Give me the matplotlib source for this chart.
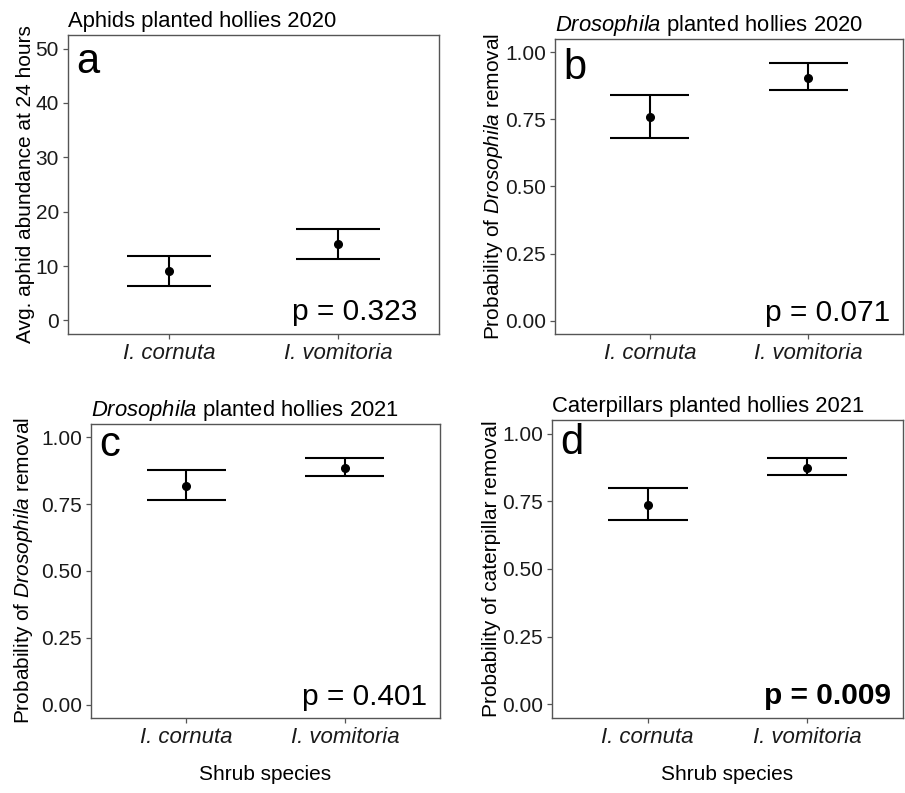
import matplotlib
matplotlib.use("Agg")
import matplotlib.pyplot as plt
import numpy as np

plt.rcParams['font.family'] = ['Liberation Sans', 'DejaVu Sans']
plt.rcParams['mathtext.fontset'] = 'custom'
plt.rcParams['mathtext.rm'] = 'Liberation Sans'
plt.rcParams['mathtext.it'] = 'Liberation Sans:italic'
plt.rcParams['mathtext.bf'] = 'Liberation Sans:bold'

# ---- data ----
species = ["I. cornuta", "I. vomitoria"]

aphid_mean = [9.1, 14.0]
aphid_lo = [6.3, 11.3]
aphid_hi = [11.9, 16.8]

dros20_mean = [0.758, 0.904]
dros20_lo = [0.681, 0.859]
dros20_hi = [0.840, 0.960]

dros21_mean = [0.819, 0.886]
dros21_lo = [0.766, 0.855]
dros21_hi = [0.879, 0.922]

cat21_mean = [0.735, 0.874]
cat21_lo = [0.680, 0.847]
cat21_hi = [0.798, 0.909]

p_values = ["p = 0.323", "p = 0.071", "p = 0.401", "p = 0.009"]
p_bold = [False, False, False, True]
panel_letters = ["a", "b", "c", "d"]
titles = ["Aphids planted hollies 2020",
          r"$\it{Drosophila}$ planted hollies 2020",
          r"$\it{Drosophila}$ planted hollies 2021",
          "Caterpillars planted hollies 2021"]
ylabels = ["Avg. aphid abundance at 24 hours",
           r"Probability of $\it{Drosophila}$ removal",
           r"Probability of $\it{Drosophila}$ removal",
           "Probability of caterpillar removal"]
aphid_ticks = [0, 10, 20, 30, 40, 50]
prob_ticks = [0.00, 0.25, 0.50, 0.75, 1.00]
xlab = "Shrub species"

W, H = 905, 793
fig = plt.figure(figsize=(W / 100, H / 100), dpi=100)

# pixel boxes: left, right, top, bottom
boxes = [(68, 439, 35, 334), (555, 903, 39, 334),
         (91, 440, 424, 718), (552, 903, 420, 718)]
ylabel_x_px = [35, 505, 35, 501]
letter_y = [45.6, 0.90, 0.932, 0.923]

series = [(aphid_mean, aphid_lo, aphid_hi),
          (dros20_mean, dros20_lo, dros20_hi),
          (dros21_mean, dros21_lo, dros21_hi),
          (cat21_mean, cat21_lo, cat21_hi)]

frame_col = '#555555'
for i, (box, (m, lo, hi)) in enumerate(zip(boxes, series)):
    l, r, t, b = box
    ax = fig.add_axes([l / W, 1 - b / H, (r - l) / W, (b - t) / H])
    x = np.arange(1, len(species) + 1)
    ax.vlines(x, lo, hi, color='black', lw=1.5)
    ax.hlines(lo, x - 0.25, x + 0.25, color='black', lw=1.5)
    ax.hlines(hi, x - 0.25, x + 0.25, color='black', lw=1.5)
    ax.plot(x, m, 'o', color='black', ms=5.5, zorder=3)
    ax.set_xlim(0.4, 2.6)
    ax.set_xticks(x)
    ax.set_xticklabels(species, fontstyle='italic', fontsize=16)
    if i == 0:
        ax.set_ylim(-2.5, 52.5)
        ax.set_yticks(aphid_ticks)
        ax.set_yticklabels([str(v) for v in aphid_ticks])
    else:
        ax.set_ylim(-0.05, 1.05)
        ax.set_yticks(prob_ticks)
        ax.set_yticklabels([f"{v:.2f}" for v in prob_ticks])
    ax.tick_params(axis='both', length=3.5, width=0.9, color=frame_col,
                   labelcolor='#1a1a1a', pad=3)
    ax.tick_params(axis='y', labelsize=15)
    for s in ax.spines.values():
        s.set_color(frame_col)
        s.set_linewidth(1.0)
    ax.set_title(titles[i], loc='left', fontsize=15.8, pad=6)
    ax.set_ylabel(ylabels[i], fontsize=15)
    ax.yaxis.set_label_coords((ylabel_x_px[i] - l) / (r - l), 0.5)
    ax.text(1.73, 0.0, p_values[i], fontsize=21.5,
            fontweight='bold' if p_bold[i] else 'normal',
            ha='left', va='baseline')
    ax.text(0.45, letter_y[i], panel_letters[i], fontsize=30,
            ha='left', va='baseline')
    if i >= 2:
        ax.set_xlabel(xlab, fontsize=15)
        ax.xaxis.set_label_coords(0.5, (b - 765) / (b - t))

fig.savefig("out.png", dpi=100)
